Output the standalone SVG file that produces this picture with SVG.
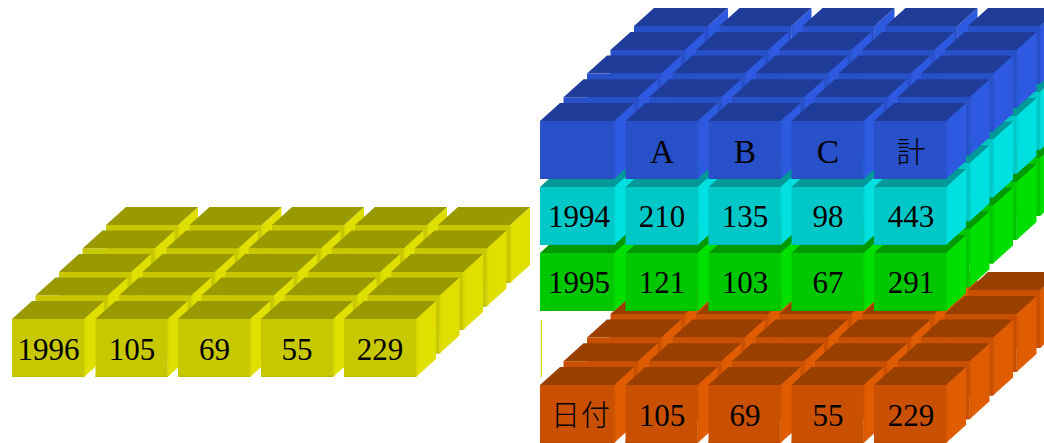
<svg xmlns="http://www.w3.org/2000/svg" width="1044" height="443" viewBox="0 0 1044 443">
<defs>
<style>
text{font-family:"Liberation Serif","Noto Sans CJK JP",serif;font-size:31px;fill:#000;text-anchor:middle}
.cj{font-family:"Noto Sans CJK JP","Liberation Serif",sans-serif;font-size:29px;font-weight:300}
.hd{font-size:33.500px}
.t{fill:var(--t)}.f{fill:var(--f)}.s{fill:var(--s)}.b{fill:var(--b)}.e{fill:var(--e)}
.y{--t:#999900;--f:#c8c800;--s:#e0e000;--b:#bcbc00;--e:#d8d800}
.c{--t:#009999;--f:#00c8c8;--s:#00e0e0;--b:#00bcbc;--e:#00d8d8}
.g{--t:#009900;--f:#00c800;--s:#00e000;--b:#00bc00;--e:#00d800}
.o{--t:#994000;--f:#c85000;--s:#e05c00;--b:#bc4b00;--e:#d85800}
.u{--t:#203c99;--f:#2850c8;--s:#2d5ae0;--b:#2a4cbc;--e:#2c56d8}
</style>
<g id="cube">
<path class="s" d="M72 0l20-18v58l-20 18z"/>
<path class="e" d="M72 0l2-1.800v58l-2 1.800z"/>
<path class="t" d="M0 0h72l20-18h-72z"/>
<path class="f" d="M0 0h72v58h-72z"/>
<path class="b" d="M0 56.500h72v1.500h-72z"/>
</g>
<g id="cubeW">
<path class="s" d="M72 0l20-18v58l-20 18z"/>
<path class="e" d="M72 0l2-1.800v58l-2 1.800z"/>
<path class="t" d="M-2 0h74l20-18h-74z"/>
<path class="f" d="M-2 0h74v58h-74z"/>
<path class="b" d="M-2 56.500h74v1.500h-74z"/>
</g>
<g id="rowL">
<use href="#cube"/>
<use href="#cube" x="83.500"/>
<use href="#cube" x="166"/>
<use href="#cube" x="249"/>
<use href="#cube" x="332"/>
</g>
<g id="rowR">
<use href="#cubeW"/>
<use href="#cube" x="83.500"/>
<use href="#cube" x="166.500"/>
<use href="#cube" x="249.500"/>
<use href="#cube" x="332"/>
</g>
<g id="layerL">
<use href="#rowL" x="94" y="-94"/>
<use href="#rowL" x="70.500" y="-70.500"/>
<use href="#rowL" x="47" y="-47"/>
<use href="#rowL" x="23.500" y="-23.500"/>
<use href="#rowL"/>
</g>
<g id="layerR">
<use href="#rowR" x="94" y="-95"/>
<use href="#rowR" x="70.500" y="-71"/>
<use href="#rowR" x="47" y="-47.500"/>
<use href="#rowR" x="23.500" y="-23.800"/>
<use href="#rowR"/>
</g>
</defs>
<g id="layer-1996" class="y">
<use href="#layerL" x="12" y="319"/>
<text x="48.500" y="360">1996</text>
<text x="132" y="360">105</text>
<text x="214.500" y="360">69</text>
<text x="297" y="360">55</text>
<text x="380" y="360">229</text>
</g>
<g id="layer-date" class="o">
<use href="#layerR" x="542" y="385"/>
<text class="cj" x="581" y="426" letter-spacing="1">日付</text>
<text x="662" y="426">105</text>
<text x="745" y="426">69</text>
<text x="828" y="426">55</text>
<text x="911" y="426">229</text>
</g>
<rect id="sliver" x="540.700" y="320" width="1.300" height="57" fill="#d8d820"/>
<g id="layer-1995" class="g">
<use href="#layerR" x="542" y="253"/>
<rect x="547" y="298" width="1" height="7" fill="#00e000"/>
<text x="579" y="293">1995</text>
<text x="662" y="293">121</text>
<text x="745" y="293">103</text>
<text x="828" y="293">67</text>
<text x="911" y="293">291</text>
</g>
<g id="layer-1994" class="c">
<use href="#layerR" x="542" y="187"/>
<text x="579" y="227">1994</text>
<text x="662" y="227">210</text>
<text x="745" y="227">135</text>
<text x="828" y="227">98</text>
<text x="911" y="227">443</text>
</g>
<g id="layer-head" class="u">
<use href="#layerR" x="542" y="121"/>
<text class="hd" x="662" y="163">A</text>
<text class="hd" x="745" y="163">B</text>
<text class="hd" x="828" y="163">C</text>
<text class="cj" x="911" y="163">計</text>
</g>
</svg>
